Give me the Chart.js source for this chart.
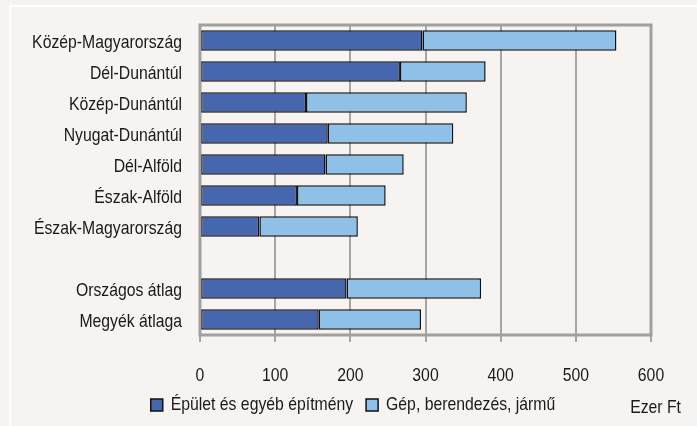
<!DOCTYPE html>
<html>
<head>
<meta charset="utf-8">
<script src="https://cdn.jsdelivr.net/npm/chart.js@4/dist/chart.umd.min.js"></script>
<style>
  body { margin: 0; background: #f6f3f0; }
  #wrap { width: 697px; height: 426px; }
</style>
</head>
<body>
<div id="wrap"><canvas id="myChart" width="697" height="426"></canvas></div>
<script>
// regions, with an empty row before the averages
const regions = ['Közép-Magyarország', 'Dél-Dunántúl', 'Közép-Dunántúl', 'Nyugat-Dunántúl',
  'Dél-Alföld', 'Észak-Alföld', 'Észak-Magyarország', '', 'Országos átlag', 'Megyék átlaga'];
const buildings = [296, 266, 141, 170, 167, 129, 79, null, 195, 158];
const machines = [258, 114, 214, 167, 104, 118, 131, null, 179, 136];
const xTicks = [0, 100, 200, 300, 400, 500, 600];
const seriesNames = ['Épület és egyéb építmény', 'Gép, berendezés, jármű'];
const seriesColors = ['#4666ae', '#8fc0e8'];
const unitLabel = 'Ezer Ft';

// the original uses a narrow sans; squeeze Liberation Sans to get close
const FONT = "19px 'Liberation Sans', Arial, sans-serif";
const NARROW = 0.83;
const TEXT_COLOR = '#1a1a1a';

function narrowText(ctx, text, x, y, align) {
  ctx.save();
  ctx.translate(x, y);
  ctx.scale(NARROW, 1);
  ctx.font = FONT;
  ctx.fillStyle = TEXT_COLOR;
  ctx.textAlign = align;
  ctx.textBaseline = 'alphabetic';
  ctx.fillText(text, 0, 0);
  ctx.restore();
}

function narrowWidth(ctx, text) {
  ctx.save();
  ctx.font = FONT;
  const w = ctx.measureText(text).width * NARROW;
  ctx.restore();
  return w;
}

// background, white frame, plot border, labels, legend and unit
const decor = {
  id: 'decor',
  beforeDraw(chart) {
    const ctx = chart.ctx;
    ctx.save();
    ctx.fillStyle = '#f6f3f0';
    ctx.fillRect(0, 0, chart.width, chart.height);
    ctx.strokeStyle = '#ffffff';
    ctx.lineWidth = 2;
    ctx.strokeRect(10, 6, chart.width + 20, chart.height + 20);
    ctx.restore();
  },
  afterDraw(chart) {
    const ctx = chart.ctx;
    const a = chart.chartArea;
    const xScale = chart.scales.x;
    const yScale = chart.scales.y;

    ctx.save();
    ctx.strokeStyle = '#a0a0a0';
    ctx.lineWidth = 3;
    ctx.strokeRect(a.left, a.top, a.right - a.left, a.bottom - a.top);
    ctx.restore();

    // category labels
    chart.data.labels.forEach((lab, i) => {
      if (!lab) return;
      narrowText(ctx, lab, a.left - 18, yScale.getPixelForTick(i) + 7, 'right');
    });

    // value labels
    xTicks.forEach(v => {
      narrowText(ctx, String(v), xScale.getPixelForValue(v), a.bottom + 46, 'center');
    });

    // legend
    const box = 12, gap = 8, spacing = 13;
    const widths = seriesNames.map(s => narrowWidth(ctx, s));
    const total = widths.reduce((s, w) => s + box + gap + w, 0) + spacing * (seriesNames.length - 1);
    let x = 353 - total / 2;
    const legY = a.bottom + 64;
    seriesNames.forEach((name, i) => {
      ctx.save();
      ctx.fillStyle = seriesColors[i];
      ctx.fillRect(x, legY, box, box);
      ctx.strokeStyle = '#111';
      ctx.lineWidth = 1.5;
      ctx.strokeRect(x, legY, box, box);
      ctx.restore();
      narrowText(ctx, name, x + box + gap, legY + 11, 'left');
      x += box + gap + widths[i] + spacing;
    });

    narrowText(ctx, unitLabel, 681, a.bottom + 78, 'right');
  }
};

const chartCtx = document.getElementById('myChart').getContext('2d');
const myChart = new Chart(chartCtx, {
  type: 'bar',
  data: {
    labels: regions,
    datasets: seriesNames.map((name, i) => ({
      label: name,
      data: i === 0 ? buildings : machines,
      backgroundColor: seriesColors[i],
      borderColor: '#111',
      borderWidth: 1.5,
      borderSkipped: false
    }))
  },
  options: {
    indexAxis: 'y',
    responsive: false,
    animation: false,
    layout: { padding: { top: 25, right: 46, left: 0, bottom: 0 } },
    datasets: { bar: { barPercentage: 0.66, categoryPercentage: 1 } },
    scales: {
      x: {
        stacked: true,
        min: 0,
        max: 600,
        afterBuildTicks(scale) { scale.ticks = xTicks.map(v => ({ value: v })); },
        afterFit(scale) { scale.height = 91; },
        grid: { color: '#a5a5a5', lineWidth: 2, tickLength: 7, drawOnChartArea: true },
        border: { display: false },
        ticks: { display: false }
      },
      y: {
        stacked: true,
        afterFit(scale) { scale.width = 200; },
        grid: { display: false },
        border: { display: false },
        ticks: { display: false }
      }
    },
    plugins: {
      legend: { display: false },
      tooltip: { enabled: false }
    }
  },
  plugins: [decor]
});
</script>
</body>
</html>
